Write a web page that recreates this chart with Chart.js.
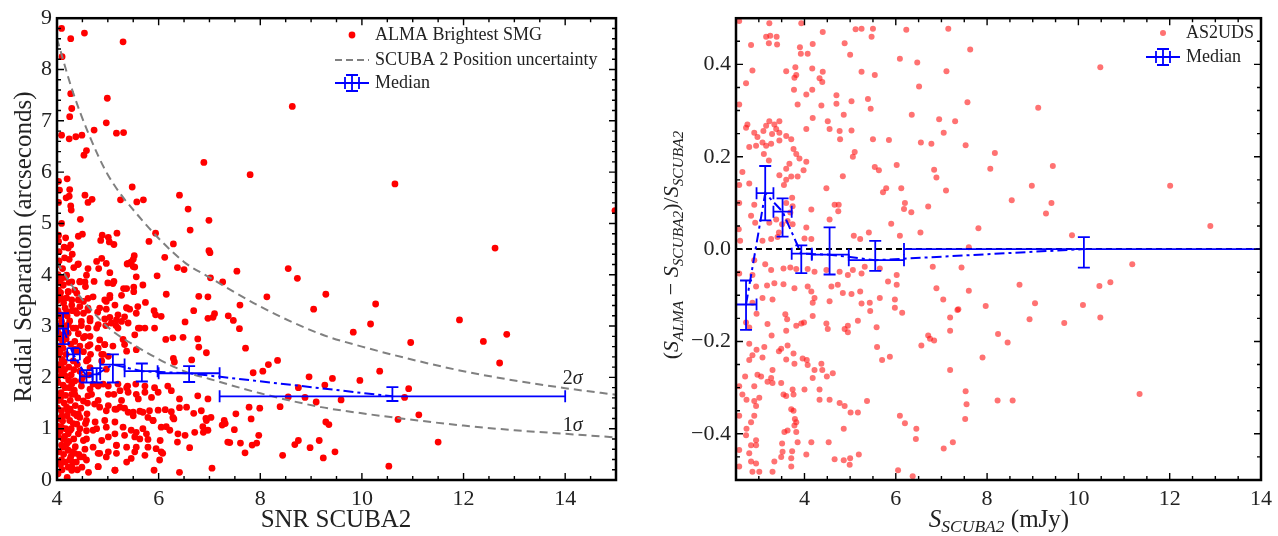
<!DOCTYPE html>
<html>
<head>
<meta charset="utf-8">
<script src="https://cdn.jsdelivr.net/npm/chart.js@4.4.1/dist/chart.umd.min.js"></script>
<style>
  body { margin: 0; background: #fff; }
  #left { position: absolute; left: 0; top: 0; }
  #right { position: absolute; left: 640px; top: 0; }
</style>
</head>
<body>
<canvas id="left" width="630" height="536"></canvas>
<canvas id="right" width="638" height="536"></canvas>
<script>
// ---- left panel: radial separation vs SNR ----
const almaPts = [
  [4.09,8.8],[4.27,8.6],[4.54,8.71],[5.3,8.54],[4.1,8.25],[4.27,7.53],[4.29,7.24],[4.25,7.08],[4.09,6.72],[4.24,6.65],
  [4.37,6.69],[4.49,6.72],[4.53,6.33],[4.58,6.42],[4.73,6.82],[4.99,7.44],[4.97,6.96],[5.17,6.76],[5.31,6.77],[8.63,7.28],
  [6.89,6.19],[7.8,5.95],[4.03,5.82],[4.05,5.65],[4.2,5.87],[4.25,5.66],[4.24,5.53],[4.03,5.41],[4.18,5.5],[4.27,5.34],
  [4.28,5.26],[4.55,5.55],[4.61,5.41],[4.69,5.47],[5.48,5.71],[5.25,5.46],[5.57,5.42],[5.7,5.46],[6.41,5.55],[6.58,5.28],
  [6.99,5.06],[6.62,4.87],[4.46,5.08],[4.09,5.0],[4.5,4.79],[4.42,4.75],[4.89,4.77],[4.86,4.67],[5.01,4.73],[5.03,4.64],
  [5.12,4.59],[5.18,4.81],[4.03,4.77],[4.03,4.65],[4.14,4.54],[4.17,4.72],[4.27,4.58],[4.22,4.52],[5.94,4.81],[5.81,4.65],
  [6.29,4.6],[6.12,4.34],[6.99,4.47],[7.01,4.43],[8.55,4.12],[7.54,4.07],[6.37,4.14],[6.5,4.1],[5.46,4.25],[5.52,4.37],
  [5.5,4.3],[5.4,4.22],[5.5,4.16],[4.78,4.26],[4.88,4.32],[4.97,4.22],[4.61,4.12],[4.15,4.33],[4.24,4.3],[4.33,4.14],
  [4.41,4.2],[4.04,4.27],[10.65,5.77],[12.62,4.52],[14.98,5.25],
  [9.29,3.62],[10.27,3.43],[10.17,3.04],[9.83,2.88],[10.96,2.68],[11.92,3.12],[12.39,2.7],[12.85,2.84],[12.71,2.28],[10.35,2.12],
  [9.42,1.98],[9.96,1.94],[9.27,1.85],[10.92,1.78],[10.84,1.61],[9.59,1.56],[9.1,1.52],[11.12,1.27],[10.71,1.18],[9.29,1.13],
  [9.35,1.08],[9.16,0.77],[11.5,0.74],[9.47,0.55],[9.24,0.43],[10.53,0.27],
  [5.97,3.98],[7.02,3.94],[7.26,3.86],[8.73,3.93],[6.15,3.62],[6.79,3.58],[6.97,3.57],[7.6,3.41],[8.13,3.57],[5.91,3.3],
  [5.94,3.22],[6.69,3.3],[7.07,3.17],[7.1,3.24],[7.37,3.2],[7.47,3.11],[7.59,2.95],[9.05,3.33],[6.14,2.74],[6.28,2.77],
  [6.48,2.78],[6.77,2.75],[6.79,2.59],[6.94,2.48],[6.29,2.37],[6.31,2.3],[6.65,2.34],[7.71,2.57],[8.16,2.25],[8.34,2.33],
  [8.05,2.12],[7.86,2.09],[8.96,2.01],[8.75,1.8],[8.88,1.61],[8.55,1.62],[7.78,1.42],[7.99,1.4],[8.39,1.43],[7.52,1.29],
  [7.82,1.19],[7.29,1.16],[7.31,1.1],[7.25,1.07],[7.49,0.98],[6.87,1.04],[6.93,1.2],[6.69,1.3],[6.55,1.42],[6.41,1.41],
  [6.3,1.19],[6.25,1.33],[6.13,1.37],[6.15,1.04],[6.52,0.87],[6.88,0.93],[6.37,0.74],[6.61,0.63],[7.36,0.74],[7.4,0.73],
  [7.61,0.72],[7.7,0.53],[7.84,0.68],[7.93,0.72],[7.97,0.87],[8.68,0.69],[8.75,0.77],[8.98,0.63],[8.44,0.48],[6.08,0.52],
  [6.02,0.39],[5.91,0.19],[6.41,0.15],[7.05,0.23],[6.03,0.77],
  [4.09,3.93],[4.29,3.86],[4.45,3.87],[4.55,3.86],[4.73,3.87],[5.04,4.04],[5.12,3.87],[5.0,3.84],[5.37,3.73],[5.51,3.67],
  [5.69,3.8],[4.12,3.8],[4.22,3.67],[4.35,3.7],[4.56,3.77],[4.42,3.51],[4.61,3.54],[4.71,3.57],[4.94,3.51],[5.04,3.55],
  [4.09,3.54],[4.16,3.35],[4.29,3.41],[4.45,3.38],[4.52,3.25],[4.61,3.31],[4.8,3.27],[4.97,3.33],[5.37,3.36],[5.43,3.33],
  [5.56,3.25],[5.74,3.46],[6.05,3.19],[6.52,3.08],[6.97,3.15],[4.09,3.09],[4.22,3.03],[4.37,2.96],[4.48,3.01],[4.65,3.1],
  [4.94,3.14],[5.04,3.17],[5.17,3.12],[5.27,3.09],[5.33,3.18],[5.73,2.96],[5.92,2.96],
  [4.61,2.96],[4.81,3.03],[5.07,3.06],[5.16,3.01],[5.6,2.96],[5.53,2.83],[4.35,2.7],[4.55,2.8],[4.65,2.64],[4.81,2.57],
  [4.94,2.64],[5.3,2.74],[4.09,2.83],[4.22,2.86],[4.06,2.48],[4.88,2.45],[4.61,2.35],[4.09,2.19],[4.16,2.03],[4.29,1.87],
  [4.48,1.83],[4.65,1.77],[4.81,1.83],[5.01,1.83],[5.2,1.87],[5.39,1.83],[5.55,1.87],[5.73,1.83],[5.92,1.8],[6.18,1.83],
  [6.25,1.74],[6.41,1.58],[6.77,1.64],[6.97,1.58],[5.4,1.71],[5.6,1.58],[5.86,1.61],[5.99,1.71],[5.27,1.55],[5.12,1.67],
  [4.35,1.67],[4.61,1.64],[4.81,1.55],[5.01,1.45],[5.17,1.38],[5.33,1.4],[5.5,1.32],[5.63,1.34],[5.82,1.35],[5.99,1.36],
  [6.28,1.22],[6.84,1.35],[6.94,1.16],[7.03,1.22],[4.09,1.35],[4.26,1.38],[4.42,1.29],[4.58,1.16],[4.75,1.13],[4.94,1.16],
  [5.14,1.13],[5.3,1.03],[5.46,0.97],[5.69,1.0],[5.89,1.16],[6.05,1.03],[6.22,0.97],[6.38,0.9],[6.71,0.93],[6.97,0.97],
  [4.09,1.03],[4.26,0.97],[4.42,0.9],[4.58,0.8],[4.71,0.97],[4.88,0.77],[5.01,0.84],[5.17,0.68],[5.53,0.84],[5.63,0.8],
  [5.79,0.79],[5.56,0.64],[5.79,0.64],[5.95,0.61],[6.05,0.55],[4.09,0.68],[4.22,0.58],[4.35,0.52],[4.52,0.45],[4.81,0.52],
  [4.97,0.45],[5.17,0.52],[4.81,0.26],[5.14,0.19],[5.46,0.42],[4.09,0.39],[4.29,0.26],[4.45,0.45],
  [4.42,4.21],[4.82,4.12],[5.38,4.21],[5.53,4.15],[5.56,3.96],[5.51,3.76],[5.31,3.73],[5.1,3.83],[5.27,3.6],[5.04,3.6],
  [4.97,3.48],[5.14,3.41],[4.84,3.35],[5.2,3.22],[5.37,3.35],[5.59,3.38],[5.4,3.06],[5.63,2.96],[5.2,2.96],[4.96,3.01],
  [4.78,2.96],[4.65,3.15],[4.61,3.35],[4.52,3.48],[4.39,3.64],[4.45,3.86],[4.58,3.99],[4.19,3.99],[4.12,3.8],[4.29,3.51],
  [4.19,3.28],[4.39,3.25],[4.48,3.09],[4.65,2.8],[4.84,2.73],[4.94,2.64],[4.52,2.77],[4.45,2.61],[4.61,2.61],[5.1,2.61],
  [5.33,2.64],[5.56,2.54],[5.37,2.51],[5.01,2.41],[4.58,2.32],[4.65,2.19],[4.91,2.45],[4.88,2.32],[4.97,2.16],[4.45,2.12],
  [4.48,1.93],[4.71,1.87],[4.91,1.87],[5.01,1.67],[5.24,1.74],[5.37,1.8],[5.56,1.67],[5.73,1.71],[4.68,1.67],[4.52,1.54],
  [4.74,1.48],[4.84,1.42],[4.97,1.35],[5.14,1.38],[5.24,1.42],[5.4,1.32],[5.5,1.25],[5.69,1.32],[5.79,1.22],[4.59,1.29],
  [4.45,1.22],[4.39,1.09],[4.58,0.96],[4.78,1.0],[4.97,1.03],[5.14,0.9],[5.33,0.87],[5.56,0.93],[5.76,0.9],[5.89,1.16],
  [4.52,0.77],[4.71,0.64],[4.84,0.52],[5.01,0.55],[5.17,0.67],[5.37,0.64],[5.53,0.55],[5.73,0.48],[4.58,0.39],[4.81,0.26],
  [5.14,0.19],[5.37,0.35],[4.25,0.39],[4.29,0.19],[4.12,0.64],[4.22,0.9],[4.25,1.16],[4.19,1.42],[4.29,1.67],[4.16,1.8],
  [4.35,1.93],[4.09,2.06],[4.32,2.32],[4.12,2.57],[4.06,2.77],[4.32,2.96],[4.09,3.22],[4.06,3.54],[4.22,3.67],[4.05,3.86],
  [4.11,4.12],
  [4.02,0.12],[4.04,0.55],[4.02,0.85],[4.05,1.2],[4.03,1.55],[4.02,1.9],[4.04,2.25],[4.02,2.6],[4.05,3.0],[4.02,3.3],
  [4.03,3.7],[4.02,4.0],[4.04,4.45],[4.07,0.3],[4.13,0.5],[4.15,0.85],[4.11,1.15],[4.14,1.5],[4.08,1.7],[4.14,2.3],
  [4.11,2.7],[4.17,2.95],[4.13,3.45],[4.16,3.95],[4.2,0.05],[4.19,0.7],[4.2,1.25],[4.23,1.95],[4.18,2.45],[4.2,3.2],
  [4.24,3.85],[4.3,0.55],[4.33,0.8],[4.36,1.45],[4.32,1.1],[4.38,2.5],[4.36,3.3],[4.4,0.2],[4.38,0.35],[4.3,4.4],
  [4.01,0.35],[4.01,1.05],[4.01,1.4],[4.01,2.0],[4.01,2.45],[4.01,2.9],[4.01,3.5],[4.01,4.2],[4.06,0.95],[4.07,1.6],
  [4.06,2.15],[4.07,2.6],[4.06,3.2],[4.07,3.65],[4.1,0.2],[4.12,0.8],[4.1,1.25],[4.12,1.85],[4.1,2.35],[4.13,3.0],
  [4.16,0.35],[4.17,1.0],[4.17,1.65],[4.15,2.15],[4.18,2.75],[4.19,3.55],[4.22,0.25],[4.23,0.75],[4.22,1.35],[4.24,1.8],
  [4.23,2.2],[4.25,3.1],[4.27,0.45],[4.28,1.0],[4.26,1.55],[4.28,2.05],[4.27,2.65],[4.3,3.3],[4.31,0.35],[4.33,1.3],
  [4.34,1.75],[4.33,2.15],[4.35,2.55],[4.36,0.65],[4.39,1.25],[4.41,1.6],[4.4,2.25],[4.42,2.85],[4.43,0.5],[4.45,1.0],
  [4.47,1.4],[4.5,2.0],[4.52,2.5],[4.49,0.25],[4.55,0.6],[4.56,1.1],[4.6,1.5],[4.63,2.05],[4.66,2.45],[4.62,0.15]
];

const sigSnr = [4.0, 4.3, 4.6, 5.0, 5.6, 6.5, 7.0, 8.0, 9.2, 10.0, 11.1, 12.0, 13.0, 14.0, 15.0];
const sig2Sep = [8.6, 7.6, 6.8, 5.95, 5.15, 4.25, 3.95, 3.38, 2.84, 2.6, 2.32, 2.12, 1.94, 1.79, 1.66];
const sig1Sep = [4.25, 3.78, 3.4, 2.98, 2.58, 2.12, 1.97, 1.69, 1.42, 1.3, 1.16, 1.06, 0.97, 0.9, 0.83];

const medSnr    = [4.12, 4.32, 4.58, 4.78, 5.1, 5.67, 6.6, 10.6];
const medSep    = [2.95, 2.45, 2.02, 2.06, 2.25, 2.12, 2.08, 1.63];
const medSnrLo  = [4.02, 4.2, 4.45, 4.7, 4.85, 5.33, 6.0, 7.2];
const medSnrHi  = [4.22, 4.45, 4.7, 4.85, 5.33, 5.98, 7.2, 14.0];
const medSepLo  = [2.65, 2.33, 1.9, 1.9, 1.9, 1.92, 1.91, 1.54];
const medSepHi  = [3.25, 2.57, 2.14, 2.18, 2.45, 2.27, 2.22, 1.81];

const snrTicks = [4, 6, 8, 10, 12, 14];
const sepTicks = [0, 1, 2, 3, 4, 5, 6, 7, 8, 9];

// ---- right panel: flux ratio vs SCUBA2 flux ----
const as2udsPts = [
  [2.57,0.494],[3.23,0.489],[3.93,0.489],[4.4,0.47],[5.12,0.476],[5.25,0.477],[5.5,0.477],[5.47,0.46],[6.23,0.475],[7.15,0.477],
  [2.83,0.442],[3.16,0.46],[3.25,0.462],[3.39,0.46],[3.22,0.446],[3.4,0.443],[3.9,0.437],[3.92,0.423],[4.07,0.423],[4.18,0.444],
  [4.88,0.446],[5.0,0.421],[6.09,0.412],[6.47,0.404],[6.51,0.352],[7.11,0.385],[5.54,0.377],[5.25,0.384],[4.4,0.384],[4.39,0.362],
  [4.17,0.391],[4.04,0.335],[3.8,0.394],[3.6,0.385],[3.82,0.377],[3.78,0.371],[3.77,0.345],[3.85,0.313],[4.04,0.26],[4.18,0.284],
  [4.17,0.345],[4.33,0.37],[4.37,0.311],[4.51,0.277],[4.55,0.26],[4.7,0.333],[4.7,0.315],[4.77,0.256],[4.78,0.238],[4.86,0.291],
  [5.03,0.32],[5.03,0.257],[5.1,0.21],[5.06,0.2],[5.39,0.325],[5.45,0.304],[5.5,0.238],[5.54,0.178],[5.63,0.171],[5.85,0.236],
  [6.02,0.182],[6.12,0.132],[5.79,0.132],[5.72,0.123],[6.35,0.291],[6.55,0.231],[6.78,0.228],[6.84,0.172],[6.89,0.155],[6.71,0.092],
  [6.95,0.281],[7.05,0.252],[7.1,0.127],[7.3,0.277],[5.9,0.055],[6.2,0.1],[6.18,0.087],[6.34,0.08],[6.09,0.029],[6.54,0.036],
  [6.81,-0.038],[5.41,0.036],[5.08,0.029],[5.22,0.022],[4.66,0.096],[4.75,0.096],[4.74,0.082],[4.84,0.158],[4.48,0.132],[4.55,0.064],
  [4.15,0.086],[4.04,0.047],[4.0,0.023],[4.15,0.022],[3.82,0.206],[3.89,0.196],[4.04,0.189],[3.98,0.171],[3.85,0.157],[3.67,0.185],
  [3.71,0.157],[3.6,0.15],[3.55,0.139],[3.45,0.16],[3.6,0.174],[3.76,0.217],[3.71,0.238],[3.6,0.245],[3.45,0.235],[3.29,0.249],
  [3.27,0.228],[3.45,0.252],[3.38,0.26],[3.34,0.27],[3.45,0.277],[3.23,0.277],[3.16,0.267],[3.1,0.256],[3.08,0.231],[3.16,0.224],
  [3.22,0.192],[3.11,0.206],[2.97,0.243],[2.94,0.224],[2.9,0.252],[2.79,0.221],[2.72,0.263],[2.75,0.27],[2.57,0.313],[2.72,0.359],
  [2.86,0.387],[2.57,0.139],[2.64,0.167],[2.57,0.1],[2.79,0.142],[2.83,0.072],[2.9,0.096],[2.92,0.057],[2.56,0.043],[2.59,0.018],
  [3.08,0.018],[3.27,0.022],[3.44,0.036],[3.51,0.054],[3.63,0.061],[3.74,0.054],[3.69,0.079],[3.74,0.093],[3.73,0.111],[3.6,0.1],
  [3.23,0.057],[3.38,0.064],[3.41,0.026],[2.9,-0.024],
  [2.57,-0.053],[2.86,-0.056],[3.14,-0.033],[3.27,-0.045],[3.54,-0.042],[3.69,-0.04],[3.82,-0.043],[4.07,-0.043],[4.22,-0.049],[4.48,-0.045],
  [4.77,-0.049],[4.95,-0.056],[5.06,-0.045],[5.25,-0.053],[5.32,-0.038],[5.65,-0.042],[5.83,-0.07],[6.02,-0.056],[6.02,-0.077],[6.89,-0.085],
  [7.04,-0.109],[7.19,-0.148],[7.37,-0.13],[2.94,-0.081],[3.18,-0.079],[3.34,-0.074],[3.54,-0.076],[3.78,-0.085],[4.07,-0.081],[4.15,-0.092],
  [4.22,-0.106],[4.18,-0.116],[4.59,-0.081],[4.73,-0.077],[4.84,-0.095],[5.03,-0.097],[5.22,-0.092],[5.25,-0.118],[5.43,-0.116],[5.44,-0.134],
  [5.65,-0.106],[5.98,-0.109],[5.98,-0.127],[6.14,-0.138],[3.08,-0.106],[3.3,-0.109],[2.86,-0.116],[2.95,-0.14],[3.58,-0.141],[3.62,-0.152],
  [3.6,-0.177],[3.82,-0.166],[3.93,-0.161],[3.99,-0.159],[4.18,-0.145],[4.48,-0.161],[4.51,-0.173],[4.55,-0.113],[4.88,-0.173],[4.95,-0.166],
  [4.95,-0.18],[5.17,-0.155],[5.58,-0.169],[5.59,-0.212],[5.7,-0.24],[5.87,-0.233],[6.56,-0.209],[6.71,-0.187],[6.75,-0.194],[6.84,-0.198],
  [7.19,-0.177],[7.19,-0.262],[3.19,-0.162],[2.79,-0.17],[2.72,-0.159],[2.79,-0.205],[2.95,-0.218],[2.79,-0.24],[2.86,-0.23],[2.7,-0.276],
  [2.97,-0.272],[3.05,-0.276],[3.12,-0.212],[3.08,-0.235],[3.28,-0.187],[3.44,-0.221],[3.49,-0.216],[3.63,-0.209],[3.6,-0.239],[3.76,-0.226],
  [3.78,-0.248],[3.96,-0.237],[4.05,-0.24],[4.07,-0.251],[4.22,-0.262],[4.37,-0.248],[4.39,-0.262],[4.49,-0.276],[4.62,-0.269],[4.18,-0.279],
  [3.3,-0.262],[3.27,-0.279],[3.19,-0.287],[3.3,-0.29],[3.49,-0.29],[3.54,-0.315],[3.6,-0.318],[3.74,-0.304],[3.76,-0.315],[3.71,-0.347],
  [3.76,-0.35],[3.79,-0.368],[3.82,-0.375],[3.78,-0.382],[3.63,-0.393],[3.82,-0.396],[4.0,-0.304],[4.33,-0.304],[4.33,-0.326],[4.55,-0.326],
  [4.77,-0.333],[4.88,-0.34],[5.01,-0.354],[5.17,-0.354],[5.37,-0.329],[4.86,-0.389],[4.53,-0.418],[4.15,-0.418],[3.85,-0.418],[3.73,-0.438],
  [3.71,-0.453],[3.71,-0.471],[3.52,-0.439],[3.51,-0.421],[3.56,-0.396],[3.49,-0.45],[3.34,-0.46],[3.3,-0.482],[4.04,-0.445],[4.66,-0.455],
  [4.86,-0.457],[4.99,-0.467],[5.0,-0.453],[5.19,-0.445],[6.05,-0.479],[6.37,-0.492],[6.09,-0.361],[6.2,-0.377],[6.45,-0.389],[6.44,-0.411],
  [7.05,-0.432],[7.25,-0.418],[2.57,-0.297],[2.64,-0.315],[2.73,-0.326],[2.9,-0.329],[3.01,-0.322],[2.94,-0.34],[2.9,-0.297],[2.9,-0.361],
  [2.83,-0.375],[2.73,-0.389],[2.72,-0.403],[2.94,-0.414],[2.94,-0.425],[2.83,-0.425],[2.57,-0.435],[2.79,-0.442],[2.57,-0.471],[2.83,-0.46],
  [2.94,-0.464],[2.86,-0.482],[3.01,-0.482],[2.57,-0.361],
  [7.63,0.432],[7.57,0.318],[7.53,0.225],[8.17,0.208],[8.07,0.174],[9.12,0.306],[8.98,0.137],[9.44,0.18],[8.54,0.106],[9.41,0.1],
  [9.29,0.077],[7.81,0.045],[7.6,0.004],[9.86,0.03],[10.48,0.394],[12.01,0.137],[12.89,0.05],[7.44,-0.04],[11.18,-0.033],[8.71,-0.077],
  [7.6,-0.09],[10.46,-0.08],[10.7,-0.072],[7.97,-0.123],[9.05,-0.117],[10.1,-0.121],[7.35,-0.132],[8.93,-0.152],[9.69,-0.16],[10.48,-0.148],
  [8.24,-0.184],[8.45,-0.202],[7.9,-0.235],[7.53,-0.308],[7.55,-0.336],[8.23,-0.328],[8.56,-0.328],[11.34,-0.314],[7.52,-0.368]
];

const medFlux   = [2.72, 3.14, 3.52, 3.93, 4.55, 5.55, 10.12];
const medFrac   = [-0.12, 0.121, 0.081, -0.01, -0.012, -0.024, 0.0];
const medFluxLo = [2.5, 2.95, 3.32, 3.72, 4.16, 4.97, 6.18];
const medFluxHi = [2.95, 3.32, 3.72, 4.16, 4.97, 6.18, 14.3];
const medFracLo = [-0.175, 0.062, 0.027, -0.052, -0.055, -0.047, -0.04];
const medFracHi = [-0.068, 0.18, 0.11, 0.008, 0.047, 0.018, 0.026];

const zeroLineFlux = [2.5, 14];
const fluxTicks = [4, 6, 8, 10, 12, 14];
const fracTicks = [-0.4, -0.2, 0.0, 0.2, 0.4];

const SERIF = '"Liberation Serif", "DejaVu Serif", serif';
Chart.defaults.font.family = SERIF;
Chart.defaults.color = '#222';
const BLUE = '#0000ff';
const PINK = 'rgba(255,20,20,0.6)';

// text with italic / subscript pieces; parts: [text, 'r'|'i'|'sr'|'si']
function drawRich(ctx, parts, x, y, size, rotate, align) {
  ctx.save();
  ctx.translate(x, y);
  if (rotate) ctx.rotate(-Math.PI / 2);
  const fonts = parts.map(p => {
    const sub = p[1][0] === 's';
    const it = p[1].endsWith('i');
    return (it ? 'italic ' : '') + (sub ? size * 0.7 : size) + 'px ' + SERIF;
  });
  const widths = parts.map((p, i) => { ctx.font = fonts[i]; return ctx.measureText(p[0]).width; });
  const total = widths.reduce((a, b) => a + b, 0);
  let cx = align === 'left' ? 0 : -total / 2;
  ctx.fillStyle = '#222';
  ctx.textBaseline = 'alphabetic';
  ctx.textAlign = 'left';
  parts.forEach((p, i) => {
    ctx.font = fonts[i];
    const dy = size * 0.35 + (p[1][0] === 's' ? size * 0.22 : 0);
    ctx.fillText(p[0], cx, dy);
    cx += widths[i];
  });
  ctx.restore();
}

function axesFrame(xMajor, xStep, yMajor, yStep) {
  return {
    id: 'axesFrame',
    afterDraw(chart) {
      const { ctx, chartArea: a, scales: { x, y } } = chart;
      const near = (v, arr) => arr.some(t => Math.abs(t - v) < 1e-6);
      ctx.save();
      ctx.strokeStyle = '#000';
      ctx.lineWidth = 1.4;
      ctx.beginPath();
      for (let i = Math.ceil(x.min / xStep - 1e-9); i * xStep <= x.max + 1e-9; i++) {
        const v = i * xStep, p = x.getPixelForValue(v), len = near(v, xMajor) ? 7 : 4;
        ctx.moveTo(p, a.bottom); ctx.lineTo(p, a.bottom - len);
        ctx.moveTo(p, a.top); ctx.lineTo(p, a.top + len);
      }
      for (let i = Math.ceil(y.min / yStep - 1e-9); i * yStep <= y.max + 1e-9; i++) {
        const v = i * yStep, p = y.getPixelForValue(v), len = near(v, yMajor) ? 7 : 4;
        ctx.moveTo(a.left, p); ctx.lineTo(a.left + len, p);
        ctx.moveTo(a.right, p); ctx.lineTo(a.right - len, p);
      }
      ctx.stroke();
      ctx.lineWidth = 2.5;
      ctx.strokeRect(a.left, a.top, a.right - a.left, a.bottom - a.top);
      ctx.restore();
    }
  };
}

function errorBars(xs, ys, xLo, xHi, yLo, yHi) {
  return {
    id: 'errorBars',
    afterDatasetsDraw(chart) {
      const { ctx, chartArea: a, scales: { x, y } } = chart;
      const cap = 6;
      ctx.save();
      ctx.beginPath();
      ctx.rect(a.left, a.top, a.right - a.left, a.bottom - a.top);
      ctx.clip();
      ctx.strokeStyle = BLUE;
      ctx.lineWidth = 1.8;
      xs.forEach((xv, i) => {
        const px = x.getPixelForValue(xv), py = y.getPixelForValue(ys[i]);
        const x0 = x.getPixelForValue(xLo[i]), x1 = x.getPixelForValue(xHi[i]);
        const y0 = y.getPixelForValue(yLo[i]), y1 = y.getPixelForValue(yHi[i]);
        ctx.beginPath();
        ctx.moveTo(x0, py); ctx.lineTo(x1, py);
        ctx.moveTo(px, y0); ctx.lineTo(px, y1);
        ctx.moveTo(x0, py - cap); ctx.lineTo(x0, py + cap);
        ctx.moveTo(x1, py - cap); ctx.lineTo(x1, py + cap);
        ctx.moveTo(px - cap, y0); ctx.lineTo(px + cap, y0);
        ctx.moveTo(px - cap, y1); ctx.lineTo(px + cap, y1);
        ctx.stroke();
      });
      ctx.restore();
    }
  };
}

function medianHandle(ctx, cx, cy) {
  ctx.save();
  ctx.strokeStyle = BLUE;
  ctx.lineWidth = 1.8;
  ctx.beginPath();
  ctx.moveTo(cx - 17, cy); ctx.lineTo(cx + 17, cy);
  ctx.moveTo(cx, cy - 8); ctx.lineTo(cx, cy + 8);
  ctx.moveTo(cx - 6, cy - 8); ctx.lineTo(cx + 6, cy - 8);
  ctx.moveTo(cx - 6, cy + 8); ctx.lineTo(cx + 6, cy + 8);
  ctx.moveTo(cx - 7, cy - 6); ctx.lineTo(cx - 7, cy + 6);
  ctx.moveTo(cx + 7, cy - 6); ctx.lineTo(cx + 7, cy + 6);
  ctx.stroke();
  ctx.restore();
}

function legendText(ctx, txt, x, y) {
  ctx.save();
  ctx.font = '18px ' + SERIF;
  ctx.fillStyle = '#222';
  ctx.textBaseline = 'middle';
  ctx.fillText(txt, x, y);
  ctx.restore();
}

const leftDecor = {
  id: 'leftDecor',
  afterDraw(chart) {
    const { ctx, scales: { x, y } } = chart;
    // axis titles
    drawRich(ctx, [['Radial Separation (arcseconds)', 'r']], 22, 247, 25, true);
    drawRich(ctx, [['SNR SCUBA2', 'r']], 336, 518, 25, false);
    // sigma labels
    drawRich(ctx, [['2', 'r'], ['σ', 'i']], x.getPixelForValue(13.95), y.getPixelForValue(2.0), 20, false, 'left');
    drawRich(ctx, [['1', 'r'], ['σ', 'i']], x.getPixelForValue(13.95), y.getPixelForValue(1.1), 20, false, 'left');
    // legend
    ctx.save();
    ctx.fillStyle = '#ff0000';
    ctx.beginPath(); ctx.arc(352, 35, 3.4, 0, 2 * Math.PI); ctx.fill();
    ctx.strokeStyle = '#808080'; ctx.lineWidth = 2; ctx.setLineDash([7, 4]);
    ctx.beginPath(); ctx.moveTo(335, 60); ctx.lineTo(369, 60); ctx.stroke();
    ctx.restore();
    medianHandle(ctx, 352, 83);
    legendText(ctx, 'ALMA Brightest SMG', 375, 35);
    legendText(ctx, 'SCUBA 2 Position uncertainty', 375, 60);
    legendText(ctx, 'Median', 375, 83);
  }
};

const rightDecor = {
  id: 'rightDecor',
  afterDraw(chart) {
    const { ctx } = chart;
    drawRich(ctx, [['(', 'r'], ['S', 'i'], ['ALMA', 'si'], [' − ', 'r'], ['S', 'i'], ['SCUBA2', 'si'],
                   [')/', 'r'], ['S', 'i'], ['SCUBA2', 'si']], 30, 245, 22, true);
    drawRich(ctx, [['S', 'i'], ['SCUBA2', 'si'], [' (mJy)', 'r']], 359, 518, 25, false);
    ctx.save();
    ctx.fillStyle = PINK;
    ctx.beginPath(); ctx.arc(523, 33, 3, 0, 2 * Math.PI); ctx.fill();
    ctx.restore();
    medianHandle(ctx, 523, 57);
    legendText(ctx, 'AS2UDS', 546, 33);
    legendText(ctx, 'Median', 546, 57);
  }
};

function scaleOpts(min, max, ticks, fmt, isX, size) {
  return {
    type: 'linear', min, max,
    grid: { display: false, drawTicks: false },
    border: { display: false },
    afterBuildTicks: s => { s.ticks = ticks.map(v => ({ value: v })); },
    afterFit: s => { if (isX) s.height = size; else s.width = size; },
    ticks: { padding: isX ? 6 : 5, font: { size: 22 }, color: '#222', autoSkip: false, maxRotation: 0, callback: fmt }
  };
}

const toXY = pts => pts.map(p => ({ x: p[0], y: p[1] }));
const zip = (xs, ys) => xs.map((v, i) => ({ x: v, y: ys[i] }));

new Chart(document.getElementById('left'), {
  type: 'scatter',
  data: {
    datasets: [
      { data: toXY(almaPts), backgroundColor: '#ff0000', borderWidth: 0, pointRadius: 3.4, order: 5 },
      { data: zip(sigSnr, sig2Sep), showLine: true, borderColor: '#808080', borderWidth: 2, borderDash: [8, 5],
        pointRadius: 0, cubicInterpolationMode: 'monotone', order: 4 },
      { data: zip(sigSnr, sig1Sep), showLine: true, borderColor: '#808080', borderWidth: 2, borderDash: [8, 5],
        pointRadius: 0, cubicInterpolationMode: 'monotone', order: 3 },
      { data: zip(medSnr, medSep), showLine: true, borderColor: BLUE, borderWidth: 2, borderDash: [10, 4, 3, 4],
        pointRadius: 0, order: 1 }
    ]
  },
  options: {
    responsive: false,
    animation: false,
    layout: { padding: { top: 14, right: 14, left: 0, bottom: 0 } },
    plugins: { legend: { display: false }, tooltip: { enabled: false } },
    scales: {
      x: scaleOpts(4, 15, snrTicks, v => String(v), true, 56),
      y: scaleOpts(0, 9, sepTicks, v => String(v), false, 57)
    }
  },
  plugins: [errorBars(medSnr, medSep, medSnrLo, medSnrHi, medSepLo, medSepHi),
            axesFrame(snrTicks, 0.5, sepTicks, 0.2), leftDecor]
});

new Chart(document.getElementById('right'), {
  type: 'scatter',
  data: {
    datasets: [
      { data: toXY(as2udsPts), backgroundColor: PINK, borderWidth: 0, pointRadius: 3, order: 5 },
      { data: zeroLineFlux.map(v => ({ x: v, y: 0 })), showLine: true, borderColor: '#000', borderWidth: 2,
        borderDash: [6, 4], pointRadius: 0, order: 3 },
      { data: zip(medFlux, medFrac), showLine: true, borderColor: BLUE, borderWidth: 2, borderDash: [10, 4, 3, 4],
        pointRadius: 0, order: 1 }
    ]
  },
  options: {
    responsive: false,
    animation: false,
    layout: { padding: { top: 14, right: 16, left: 0, bottom: 0 } },
    plugins: { legend: { display: false }, tooltip: { enabled: false } },
    scales: {
      x: scaleOpts(2.5, 14, fluxTicks, v => String(v), true, 56),
      y: scaleOpts(-0.5, 0.5, fracTicks, v => (v < -1e-9 ? '−' : '') + Math.abs(v).toFixed(1), false, 96)
    }
  },
  plugins: [errorBars(medFlux, medFrac, medFluxLo, medFluxHi, medFracLo, medFracHi),
            axesFrame(fluxTicks, 0.5, fracTicks, 0.05), rightDecor]
});
</script>
</body>
</html>
